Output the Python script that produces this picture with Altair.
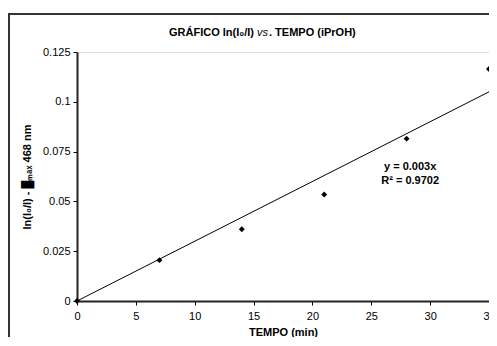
import altair as alt
import pandas as pd

tempo = [0, 7, 14, 21, 28, 35]
ln_ratio = [0.0, 0.0205, 0.036, 0.0535, 0.0815, 0.1165]
fit_x = [0, 35]
fit_y = [0.0, 0.105]
x_ticks = [0, 5, 10, 15, 20, 25, 30, 35]
y_ticks = [0, 0.025, 0.05, 0.075, 0.1, 0.125]
eq_text = ["y = 0.003x", "R² = 0.9702"]
eq_x = [28.3, 28.3]
eq_y = [0.0675, 0.06]

pts = pd.DataFrame({"t": tempo, "v": ln_ratio})
fit = pd.DataFrame({"t": fit_x, "v": fit_y})
eq = pd.DataFrame({"t": eq_x, "v": eq_y, "txt": eq_text})

FONT = "Liberation Sans"
xs = alt.Scale(domain=[0, 35], nice=False, zero=False)
ys = alt.Scale(domain=[0, 0.125], nice=False)

xenc = alt.X("t:Q", scale=xs, axis=alt.Axis(values=x_ticks, title="TEMPO (min)", grid=False,
             labelFont=FONT, labelFontSize=11, labelColor="black", titleFont=FONT,
             titleFontSize=11, titleFontWeight="bold", titleColor="black", tickSize=4,
             tickColor="black", domainColor="#222", domainWidth=2, labelPadding=5,
             titlePadding=5, labelFlush=False))
yenc = alt.Y("v:Q", scale=ys, axis=alt.Axis(values=y_ticks, title="ln(I₀/I) - █ₘₐₓ 468 nm",
             format=".3~f", grid=False, labelFont=FONT, labelFontSize=11, labelColor="black",
             titleFont=FONT, titleFontSize=11, titleFontWeight="bold", titleColor="black",
             tickSize=4, tickColor="black", domainColor="#222", domainWidth=2, labelPadding=3,
             titlePadding=10))

base = alt.Chart(pts)

line = alt.Chart(fit).mark_line(color="black", strokeWidth=1).encode(x=xenc, y=yenc)
points = base.mark_point(shape="diamond", filled=True, color="black", size=35, opacity=1).encode(x="t:Q", y="v:Q")
eqs = alt.Chart(eq).mark_text(font=FONT, fontSize=11, fontWeight="bold", color="black").encode(
    x="t:Q", y="v:Q", text="txt:N")

title_df = pd.DataFrame({"a": [0]})
t1 = alt.Chart(title_df).mark_text(text="GRÁFICO ln(I₀/I)", font=FONT, fontSize=11, fontWeight="bold",
                                   align="right", color="black").encode(x=alt.value(177), y=alt.value(-19))
t2 = alt.Chart(title_df).mark_text(text="vs", font=FONT, fontSize=11, fontStyle="italic",
                                   align="left", color="black").encode(x=alt.value(180), y=alt.value(-19))
t3 = alt.Chart(title_df).mark_text(text=". TEMPO (iPrOH)", font=FONT, fontSize=11, fontWeight="bold",
                                   align="left", color="black").encode(x=alt.value(192), y=alt.value(-19))

frame = alt.Chart(title_df).mark_rect(fill=None, stroke="#333", strokeWidth=2).encode(
    x=alt.value(-68), x2=alt.value(440), y=alt.value(-38), y2=alt.value(320))

chart = alt.layer(frame, line, points, eqs, t1, t2, t3).properties(
    width=412, height=249,
    autosize=alt.AutoSizeParams(type="none"),
    padding={"left": 69, "top": 44, "right": 0, "bottom": 36},
).configure_view(stroke="#808080", strokeWidth=2).configure(background="white")

chart.save("out.html", embed_options={"renderer": "svg", "actions": False})
